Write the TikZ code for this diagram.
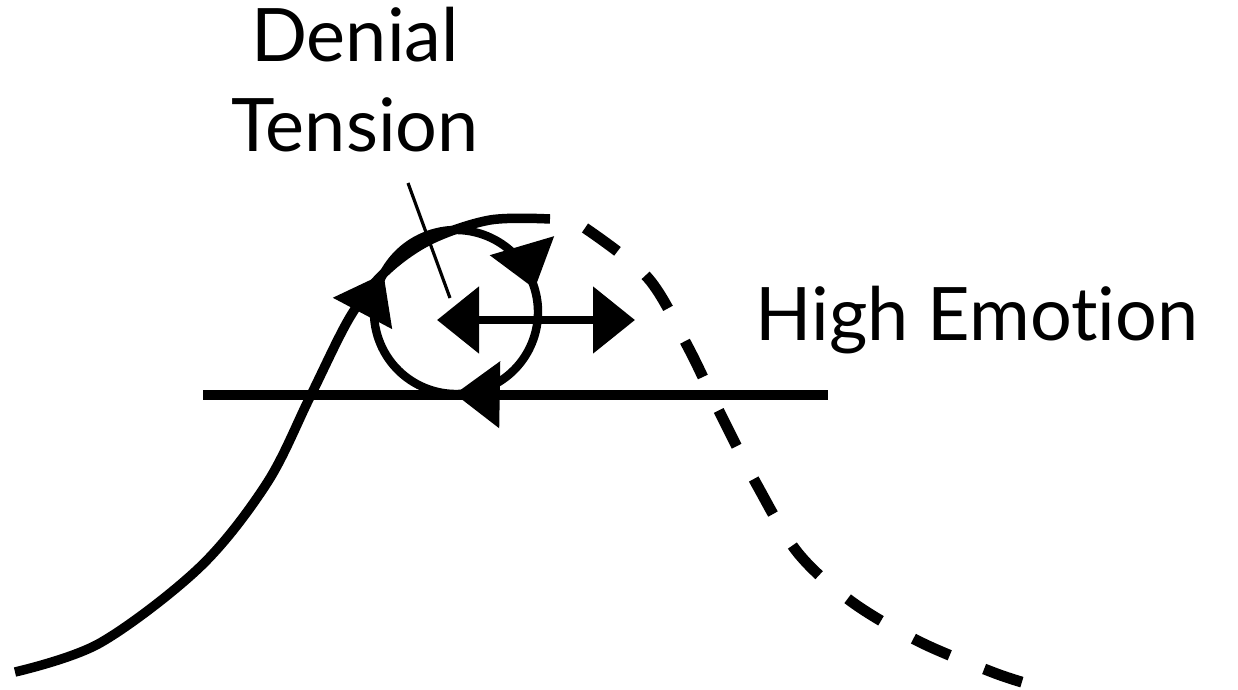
\documentclass[tikz,border=0pt]{standalone}
\usepackage{fontspec}
\setmainfont{Lato}[Ligatures=NoCommon]
\usetikzlibrary{arrows.meta, decorations.markings}

\begin{document}
\begin{tikzpicture}[
        flow/.style={line width=2.7pt},
        fade/.style={line width=3.1pt, dash pattern=on 0.4cm off 0.37cm},
        ring/.style={line width=2.4pt},
        arr/.style={{Triangle[length=4.2mm, width=6.5mm]}-{Triangle[length=4.2mm, width=6.5mm]}, line width=2.5pt},
        lbl/.style={inner sep=0, font=\fontsize{21}{25.6}\selectfont, align=center}
    ]
    \useasboundingbox (0,0) rectangle (12.38,6.89);
    % labels
    \node[lbl, anchor=north] (denial) at (3.55,6.83) {Denial\\Tension};
    \node[lbl, anchor=base west] (high) at (7.55,3.49) {High Emotion};
    % baseline
    \coordinate (base0) at (2.03,2.94);
    \coordinate (base1) at (8.28,2.94);
    \draw[flow] (base0) -- (base1);
    % rising curve, then the dashed fall
    \draw[flow] plot[smooth, tension=0.55] coordinates {(0.15,0.17) (1.00,0.46) (2.00,1.22) (2.67,2.06) (3.10,2.92) (3.50,3.72) (3.85,4.17) (4.30,4.49) (4.90,4.69) (5.50,4.70)};
    \draw[fade] plot[smooth, tension=0.55] coordinates {(5.85,4.61) (6.48,4.11) (6.88,3.42) (7.20,2.76) (7.57,2.04) (7.98,1.36) (8.52,0.87) (9.20,0.47) (9.92,0.17) (10.25,0.06)};
    % tension loop
    \coordinate (loop) at (4.56,3.77);
    \draw[ring, postaction={decorate}, decoration={markings,
            mark=at position 0.133 with {\arrow{Triangle[length=4.5mm, width=6.5mm]}},
            mark=at position 0.51 with {\arrow{Triangle[length=4.5mm, width=6.5mm]}},
            mark=at position 0.808 with {\arrow{Triangle[length=4.5mm, width=6.5mm]}}}]
        (loop) ++(200:0.82) arc[start angle=200, end angle=-160, radius=0.82];
    \coordinate (dl) at (4.37,3.69);
    \coordinate (dr) at (6.35,3.69);
    \draw[arr] (dl) -- (dr);
    % pointer
    \coordinate (ptr0) at (4.08,5.06);
    \coordinate (ptr1) at (4.50,3.91);
    \draw[line width=0.9pt] (ptr0) -- (ptr1);
\end{tikzpicture}
\end{document}
